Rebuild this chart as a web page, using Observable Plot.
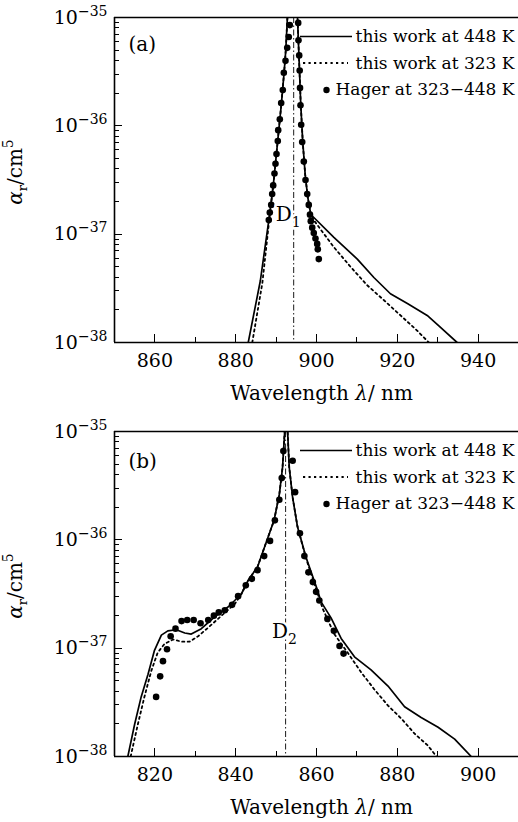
<!DOCTYPE html>
<html><head><meta charset="utf-8">
<script src="https://cdn.jsdelivr.net/npm/d3@7"></script>
<script src="https://cdn.jsdelivr.net/npm/@observablehq/plot@0.6"></script>
<style>
html,body{margin:0;padding:0;background:#fff;}
#chart{width:518px;height:822px;overflow:hidden;}
#chart svg{display:block;}
</style></head><body><div id="chart"></div>
<script>
// ---------- Panel (a): Cs D1 ----------
const aWave448 = [883.1, 886.1, 888.2, 889.3, 890.4, 891.3, 892.0, 892.4, 892.8, 893.3, 894.3, 895.0, 895.3, 895.7, 896.1, 896.6, 897.2, 897.8, 898.5, 898.9, 904.3, 910.1, 914.2, 918.3, 922.5, 927.4, 930.7, 934.8];
const aLog448  = [-38.0, -37.43, -36.87, -36.55, -36.14, -35.8, -35.5, -35.3, -35.0, -34.6, -33.5, -34.6, -35.0, -35.4, -35.8, -36.15, -36.45, -36.65, -36.80, -36.83, -37.03, -37.23, -37.40, -37.55, -37.64, -37.75, -37.86, -38.0];
const aWave323 = [884.1, 886.6, 888.3, 889.3, 890.4, 891.3, 892.0, 892.4, 892.8, 893.3, 894.3, 895.0, 895.3, 895.7, 896.1, 896.6, 897.2, 897.8, 898.5, 899.3, 904.3, 908.4, 912.5, 916.7, 920.8, 924.9, 927.8];
const aLog323  = [-38.0, -37.45, -36.87, -36.55, -36.14, -35.8, -35.5, -35.3, -35.0, -34.6, -33.5, -34.6, -35.0, -35.4, -35.8, -36.15, -36.45, -36.65, -36.80, -36.87, -37.12, -37.30, -37.47, -37.61, -37.75, -37.89, -38.0];
const aWaveHager = [888.19, 888.44, 888.79, 889.03, 889.28, 889.60, 889.85, 890.10, 890.42, 890.52, 890.92, 891.26, 891.66, 891.91, 892.33, 892.75, 893.14, 893.39,
                    895.47, 895.54, 895.72, 895.84, 895.92, 896.04, 896.21, 896.46, 896.86, 897.28, 897.70, 898.09, 898.39, 898.59, 898.94, 899.33, 899.75, 900.17, 900.32, 900.57];
const aLogHager  = [-36.87, -36.80, -36.73, -36.63, -36.55, -36.44, -36.35, -36.26, -36.14, -36.04, -35.94, -35.79, -35.67, -35.51, -35.40, -35.28, -35.18, -35.07,
                    -35.05, -35.21, -35.35, -35.49, -35.65, -35.81, -35.99, -36.15, -36.33, -36.50, -36.63, -36.73, -36.82, -36.88, -36.94, -36.99, -37.04, -37.09, -37.14, -37.23];

// ---------- Panel (b): Cs D2 ----------
const bWave448 = [813.3, 815.0, 816.6, 818.3, 819.9, 821.6, 823.2, 825.3, 827.4, 829.0, 831.5, 834.8, 838.1, 841.4, 843.0, 845.4, 847.1, 849.5, 850.8, 851.6, 852.0, 852.3, 852.55, 852.8, 852.85, 853.25, 854.1, 855.3, 857.4, 860.3, 861.1, 863.6, 866.1, 869.4, 873.5, 877.7, 881.8, 885.9, 890.1, 894.2, 898.3];
const bLog448  = [-38.0, -37.70, -37.45, -37.24, -37.02, -36.88, -36.84, -36.83, -36.86, -36.87, -36.82, -36.71, -36.62, -36.50, -36.38, -36.25, -36.07, -35.82, -35.58, -35.33, -35.08, -34.9, -34.3, -34.9, -35.0, -35.33, -35.61, -35.88, -36.16, -36.47, -36.57, -36.72, -36.91, -37.08, -37.20, -37.35, -37.54, -37.64, -37.73, -37.84, -38.0];
const bWave323 = [814.0, 815.8, 817.4, 819.1, 820.7, 822.4, 824.5, 826.6, 828.6, 830.7, 833.2, 836.5, 839.8, 841.4, 843.0, 845.4, 847.1, 849.5, 850.8, 851.6, 852.0, 852.3, 852.55, 852.8, 852.85, 853.25, 854.1, 855.3, 857.4, 860.3, 861.6, 864.4, 867.7, 871.0, 874.3, 877.7, 881.0, 884.3, 887.6, 889.7];
const bLog323  = [-38.0, -37.70, -37.45, -37.21, -37.04, -36.96, -36.92, -36.94, -36.94, -36.89, -36.81, -36.70, -36.59, -36.50, -36.38, -36.25, -36.07, -35.82, -35.58, -35.33, -35.08, -34.9, -34.3, -34.9, -35.0, -35.33, -35.61, -35.88, -36.17, -36.50, -36.64, -36.87, -37.04, -37.22, -37.38, -37.53, -37.65, -37.79, -37.90, -38.0];
const bWaveHager = [820.3, 821.3, 822.0, 823.0, 823.9, 825.1, 826.6, 828.0, 829.6, 831.3, 833.2, 834.6, 835.8, 837.3, 839.1, 840.6, 842.5, 844.0, 845.4, 847.05, 848.5, 849.7, 850.8, 851.4, 851.8,
                    854.1, 854.7, 855.9, 857.0, 858.0, 859.1, 859.9, 860.7, 862.7, 864.3, 865.7, 866.7];
const bLogHager  = [-37.45, -37.26, -37.12, -37.01, -36.89, -36.82, -36.75, -36.74, -36.74, -36.77, -36.74, -36.70, -36.67, -36.65, -36.60, -36.52, -36.42, -36.36, -36.28, -36.15, -36.01, -35.82, -35.63, -35.43, -35.18,
                    -35.27, -35.56, -35.94, -36.15, -36.30, -36.39, -36.48, -36.56, -36.73, -36.84, -36.98, -37.05];

// ---------- ticks, labels ----------
const yDomain = [1e-38, 1e-35];
const yMajorTicks = [1e-38, 1e-37, 1e-36, 1e-35];
const yMinorTicks = [-38, -37, -36].flatMap(e => [2,3,4,5,6,7,8,9].map(m => m * 10 ** e));
const aXDomain = [850, 950], aXMajor = [860, 880, 900, 920, 940], aXMinor = [870, 890, 910, 930];
const bXDomain = [810, 910], bXMajor = [820, 840, 860, 880, 900], bXMinor = [830, 850, 870, 890];
const aLineCenter = 894.35, bLineCenter = 852.35;
const aLineLabel = "D_1", bLineLabel = "D_2";
const aLineLabelPos = [889.9, -36.82], bLineLabelPos = [849.0, -36.85];
const panelTags = ["(a)", "(b)"];
const xLabel = "Wavelength λ/ nm";
const yLabel = "α_r/cm^5";
const legendLabels = ["this work at 448 K", "this work at 323 K", "Hager at 323\u2212448 K"];

const W = 518, H = 411, ML = 114;
const FONT = "DejaVu Serif";

function rows(xs, ls) { return xs.map((x, i) => ({x, y: 10 ** ls[i]})); }

function setParts(t, parts) {
  while (t.firstChild) t.removeChild(t.firstChild);
  for (const [txt, o = {}] of parts) {
    const ts = document.createElementNS("http://www.w3.org/2000/svg", "tspan");
    ts.textContent = txt;
    if (o.size) ts.setAttribute("font-size", o.size);
    if (o.dy) ts.setAttribute("dy", o.dy);
    if (o.italic) ts.setAttribute("font-style", "italic");
    t.appendChild(ts);
  }
}
function richText(svg) {
  svg.querySelectorAll("text").forEach(t => {
    const s = t.textContent;
    let m;
    if ((m = s.match(/^10\^(-?\d+)$/))) {
      setParts(t, [["10"], [m[1].replace("-", "\u2212"), {size: "14px", dy: "-8"}]]);
    } else if (s === yLabel) {
      setParts(t, [["α", {italic: true}], ["r", {size: "13px", dy: "5"}], ["/cm", {dy: "-5"}], ["5", {size: "14px", dy: "-9"}]]);
    } else if (s === xLabel) {
      setParts(t, [["Wavelength "], ["λ", {italic: true}], ["/ nm"]]);
    } else if ((m = s.match(/^D_(\d)$/))) {
      setParts(t, [["D"], [m[1], {size: "14px", dy: "6"}]]);
    }
  });
}

function panel(p) {
  const s448 = rows(p.w448, p.l448), s323 = rows(p.w323, p.l323), hager = rows(p.wH, p.lH);
  const mb = H - p.bottom;
  const legendDy = [19.5, 46, 72.5];
  const svg = Plot.plot({
    width: W, height: H, marginTop: p.top, marginBottom: mb, marginLeft: ML, marginRight: 0,
    style: {fontFamily: FONT, fontSize: "19px", background: "white", color: "black"},
    x: {domain: p.xDomain},
    y: {type: "log", domain: yDomain},
    marks: [
      Plot.ruleX([p.center], {stroke: "black", strokeWidth: 0.9, strokeDasharray: "6,2.5,1.5,2.5"}),
      Plot.line(s323, {x: "x", y: "y", stroke: "black", strokeWidth: 1.8, strokeDasharray: "2.2,3.3", clip: true}),
      Plot.line(s448, {x: "x", y: "y", stroke: "black", strokeWidth: 1.7, clip: true}),
      Plot.dot(hager, {x: "x", y: "y", r: 3.3, fill: "black", stroke: "none"}),
      Plot.text([p.dLabel], {x: () => p.dPos[0], y: () => 10 ** p.dPos[1], text: d => d, textAnchor: "start", lineAnchor: "middle",
        fontSize: 20, fill: "black", stroke: "white", strokeWidth: 5, paintOrder: "stroke"}),
      // frame (left, top, bottom)
      Plot.ruleY([yDomain[1]], {stroke: "black", strokeWidth: 1.6}),
      Plot.ruleY([yDomain[0]], {stroke: "black", strokeWidth: 1.6}),
      Plot.ruleX([p.xDomain[0]], {stroke: "black", strokeWidth: 1.6}),
      // tick labels
      Plot.axisX(p.xMajor, {anchor: "bottom", tickSize: 0, tickPadding: 11, tickFormat: d => String(d), label: null, fontSize: 19}),
      Plot.axisY(yMajorTicks, {anchor: "left", tickSize: 0, tickPadding: 7, tickFormat: d => `10^${Math.round(Math.log10(d))}`, label: null, fontSize: 19}),
      // axis titles
      Plot.text([xLabel], {frameAnchor: "bottom", dx: 5, dy: 51, lineAnchor: "middle", fontSize: 20, fill: "black"}),
      Plot.text([yLabel], {frameAnchor: "left", dx: -93, dy: -8, rotate: -90, textAnchor: "middle", lineAnchor: "bottom", fontSize: 20, fill: "black"}),
      // panel tag
      Plot.text([p.tag], {frameAnchor: "top-left", dx: 14, dy: p.tagDy, textAnchor: "start", lineAnchor: "middle", fontSize: 20, fill: "black"}),
      // legend
      ...legendLabels.map((lab, i) => Plot.text([lab], {frameAnchor: "top-right", dx: -4, dy: legendDy[i], textAnchor: "end", lineAnchor: "middle", fontSize: 17, fill: "black"})),
      Plot.dot([legendLabels[2]], {frameAnchor: "top-right", dx: -192, dy: legendDy[2], r: 3.2, fill: "black", stroke: "none"})
    ]
  });
  // inward ticks, positioned through Plot's own scales
  const sx = svg.scale("x"), sy = svg.scale("y");
  const tg = d3.select(svg).append("g").attr("stroke", "black").attr("stroke-width", 1.2).attr("shape-rendering", "crispEdges");
  const xt = (v, len) => { const X = Math.round(sx.apply(v)) + 0.5;
    tg.append("line").attr("x1", X).attr("x2", X).attr("y1", p.bottom).attr("y2", p.bottom - len); };
  const yt = (v, len) => { const Y = Math.round(sy.apply(v)) + 0.5;
    tg.append("line").attr("x1", ML).attr("x2", ML + len).attr("y1", Y).attr("y2", Y); };
  p.xMajor.forEach(v => xt(v, 8));
  p.xMinor.forEach(v => xt(v, 5));
  yMajorTicks.forEach(v => yt(v, 8));
  yMinorTicks.forEach(v => yt(v, 5));
  // legend line samples
  const g = d3.select(svg).append("g").attr("stroke", "black").attr("fill", "none");
  g.append("line").attr("x1", W - 218).attr("x2", W - 166).attr("y1", p.top + legendDy[0]).attr("y2", p.top + legendDy[0]).attr("stroke-width", 1.7);
  g.append("line").attr("x1", W - 215).attr("x2", W - 170).attr("y1", p.top + legendDy[1]).attr("y2", p.top + legendDy[1]).attr("stroke-width", 1.8).attr("stroke-dasharray", "2.2,3.3");
  richText(svg);
  return svg;
}

const chart = document.getElementById("chart");
chart.appendChild(panel({w448: aWave448, l448: aLog448, w323: aWave323, l323: aLog323, wH: aWaveHager, lH: aLogHager,
  xDomain: aXDomain, xMajor: aXMajor, xMinor: aXMinor, center: aLineCenter, dLabel: aLineLabel, dPos: aLineLabelPos,
  tag: panelTags[0], tagDy: 27, top: 17, bottom: 342}));
chart.appendChild(panel({w448: bWave448, l448: bLog448, w323: bWave323, l323: bLog323, wH: bWaveHager, lH: bLogHager,
  xDomain: bXDomain, xMajor: bXMajor, xMinor: bXMinor, center: bLineCenter, dLabel: bLineLabel, dPos: bLineLabelPos,
  tag: panelTags[1], tagDy: 30, top: 20, bottom: 345}));
</script></body></html>
